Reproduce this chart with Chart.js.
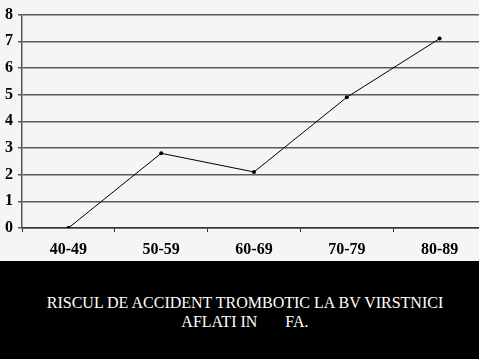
<!DOCTYPE html>
<html>
<head>
<meta charset="utf-8">
<script src="https://cdn.jsdelivr.net/npm/chart.js"></script>
<style>
  html, body { margin: 0; padding: 0; background: #000; overflow: hidden; width: 479px; height: 359px; }
  #wrap { position: absolute; left: 0; top: 0; width: 490px; height: 261px; background: #f5f5f5; }
  #caption {
    position: absolute; left: 0; top: 261px; width: 490px; height: 98px;
    background: #000; color: #fff; text-align: center;
    font-family: "Times New Roman", "Liberation Serif", Times, serif; font-size: 16px;
    line-height: 19px; padding-top: 32px; box-sizing: border-box; white-space: pre;
  }
</style>
</head>
<body>
<div id="wrap"><canvas id="riskChart"></canvas></div>
<div id="caption">RISCUL DE ACCIDENT TROMBOTIC LA BV VIRSTNICI
AFLATI IN       FA.</div>
<script>
// Age groups and risk values
const ageGroups = ['40-49', '50-59', '60-69', '70-79', '80-89'];
const riskValues = [0, 2.8, 2.1, 4.9, 7.1];
const yTicks = [0, 1, 2, 3, 4, 5, 6, 7, 8];

document.addEventListener('DOMContentLoaded', function() {
  renderRiskChart();
});

function renderRiskChart() {
  const canvas = document.getElementById('riskChart');
  canvas.width = 490;
  canvas.height = 261;

  const tickFont = { family: '"Times New Roman", "Liberation Serif", serif', size: 16, weight: 'bold' };

  new Chart(canvas, {
    type: 'line',
    data: {
      labels: ageGroups,
      datasets: [{
        data: riskValues,
        borderColor: '#000',
        backgroundColor: '#000',
        borderWidth: 1,
        pointRadius: 2,
        pointBorderWidth: 0,
        tension: 0,
        fill: false
      }]
    },
    options: {
      responsive: false,
      animation: false,
      devicePixelRatio: 1,
      layout: { padding: { top: 10, right: 0, left: 0, bottom: 0 } },
      plugins: {
        legend: { display: false },
        tooltip: { enabled: false }
      },
      scales: {
        x: {
          offset: true,
          grid: {
            offset: true,
            drawOnChartArea: false,
            drawTicks: true,
            tickLength: 4,
            color: '#333'
          },
          border: { color: '#333', width: 1.5 },
          ticks: {
            color: '#000',
            padding: 8,
            font: tickFont
          },
          afterFit: function(scale) { scale.height = 33; }
        },
        y: {
          min: 0,
          max: 8,
          afterBuildTicks: function(scale) {
            scale.ticks = yTicks.map(v => ({ value: v }));
          },
          grid: {
            color: '#5a5a5a',
            lineWidth: 1.5,
            tickLength: 4
          },
          border: { color: '#555', width: 1.5 },
          ticks: {
            color: '#000',
            padding: 5,
            font: tickFont
          },
          afterFit: function(scale) { scale.width = 22; }
        }
      }
    }
  });
}
</script>
</body>
</html>
